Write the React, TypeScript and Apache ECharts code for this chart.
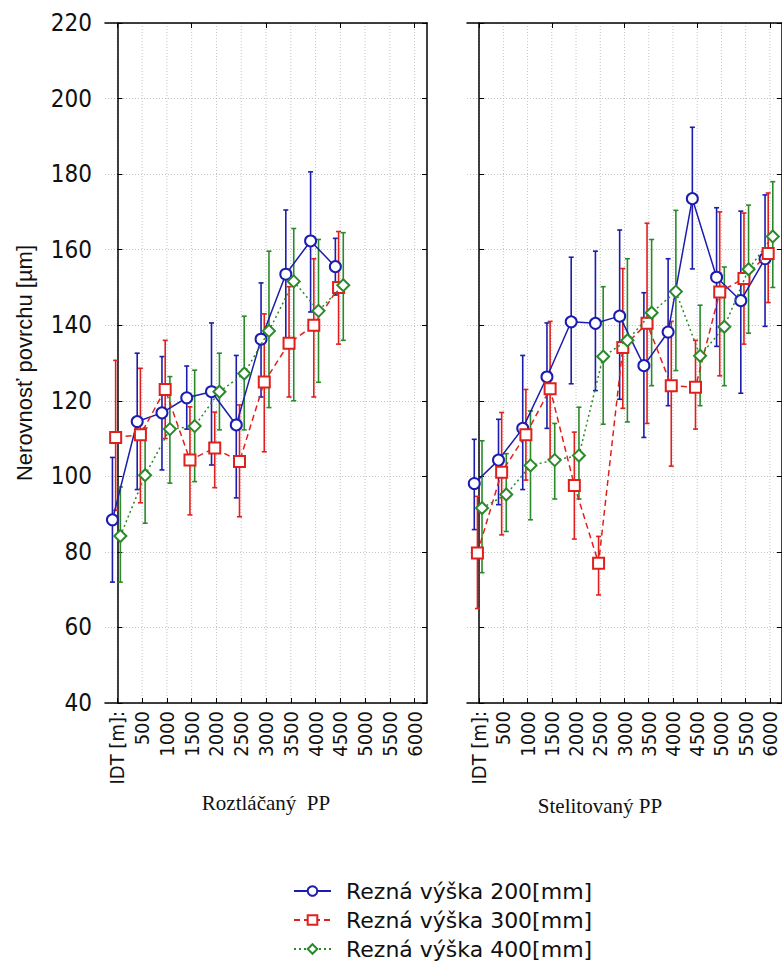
import React, { useEffect, useRef } from 'react';
import * as echarts from 'echarts';

// ---- data ----
const categories = ['IDT [m]:', '500', '1000', '1500', '2000', '2500', '3000', '3500', '4000', '4500', '5000', '5500', '6000'];
const seriesNames = ['Rezná výška 200[mm]', 'Rezná výška 300[mm]', 'Rezná výška 400[mm]'];
const panelTitles = ['Roztláčaný  PP', 'Stelitovaný PP'];

// Left panel: Roztláčaný PP (indices 0..9)
const leftBlueMean = [88.5, 114.5, 116.8, 120.8, 122.4, 113.6, 136.3, 153.5, 162.3, 155.5];
const leftBlueLow = [72, 96.5, 101.7, 112.5, 103, 94.3, 121, 136, 143.5, 148];
const leftBlueHigh = [105, 132.6, 131.7, 129.2, 140.6, 132, 151.2, 170.5, 180.6, 163];

const leftRedMean = [110.3, 111, 123, 104.3, 107.5, 103.9, 125, 135.2, 140, 150];
const leftRedLow = [91, 93, 110, 89.8, 97, 89.3, 106.5, 121, 121, 135];
const leftRedHigh = [130.7, 128.6, 136, 118.4, 117, 118.9, 143, 150.2, 157.6, 164.8];

const leftGreenMean = [84.2, 100.3, 112.5, 113.3, 122.4, 127.2, 138.5, 151.6, 143.8, 150.6];
const leftGreenLow = [72, 87.6, 98.2, 98.6, 112.3, 112.3, 118.2, 120, 124.9, 136];
const leftGreenHigh = [97.2, 112.8, 126.4, 128.1, 132.6, 142.4, 159.6, 165.6, 162.7, 164.5];

// Right panel: Stelitovaný PP (indices 0..12)
const rightBlueMean = [98.1, 104.3, 112.7, 126.3, 140.9, 140.5, 142.4, 129.3, 138.2, 173.5, 152.7, 146.5, 157.6];
const rightBlueLow = [85.9, 92.5, 96.5, 112.7, 124.5, 122.7, 120.4, 110.3, 118.7, 154.9, 134.4, 122, 139.7];
const rightBlueHigh = [109.8, 115.1, 132, 140.6, 158, 159.6, 165.2, 148.6, 157.6, 192.4, 171.1, 170.2, 174.5];

const rightRedMean = [79.7, 101.1, 111, 123.2, 97.6, 77, 134.1, 140.5, 124, 123.6, 148.8, 152.4, 159];
const rightRedLow = [65, 84.5, 99, 104.5, 83.4, 68.6, 118, 114, 102.7, 112.5, 126.6, 135, 146];
const rightRedHigh = [94.7, 116.9, 123, 141, 111.7, 84.1, 155, 167, 141, 136, 170, 169.7, 175];

const rightGreenMean = [91.6, 95.2, 102.9, 104.3, 105.5, 131.7, 136, 143.3, 148.9, 131.9, 139.6, 154.8, 163.5];
const rightGreenLow = [74.5, 85.4, 88.5, 94, 94, 113.8, 114.4, 124, 128, 118.7, 124, 137.9, 150];
const rightGreenHigh = [109.4, 106, 117.3, 114, 118.3, 150.2, 157.6, 162.7, 170.4, 145.3, 155.4, 171.8, 178];

const Y_MIN = 40;
const Y_MAX = 220;
const Y_STEP = 20;

// ---- styles ----
const COLORS = ['#1c1cb0', '#e0201c', '#2a8a2a'];
const SYMBOLS = ['emptyCircle', 'emptyRect', 'emptyDiamond'];
const SYMBOL_SIZES = [11, 11, 12];
const LINE_TYPES: any[] = ['solid', [6, 4], [2, 3]];
const OFFSETS = [-0.2, -0.07, 0.12];
const NARROW = "'Liberation Sans Narrow', 'DejaVu Sans Condensed', 'Liberation Sans', sans-serif";

const panels = [
  {
    mean: [leftBlueMean, leftRedMean, leftGreenMean],
    low: [leftBlueLow, leftRedLow, leftGreenLow],
    high: [leftBlueHigh, leftRedHigh, leftGreenHigh],
  },
  {
    mean: [rightBlueMean, rightRedMean, rightGreenMean],
    low: [rightBlueLow, rightRedLow, rightGreenLow],
    high: [rightBlueHigh, rightRedHigh, rightGreenHigh],
  },
];

function buildOption() {
  const grids = [
    { left: 105, top: 23, width: 322, height: 680 },
    { left: 467, top: 23, width: 322, height: 680 },
  ];
  const xAxes: any[] = [];
  const yAxes: any[] = [];
  const series: any[] = [];

  panels.forEach((panel, p) => {
    xAxes.push({
      type: 'category',
      gridIndex: p,
      position: 'bottom',
      data: categories,
      boundaryGap: true,
      axisLine: { show: true, lineStyle: { color: '#000', width: 1.5 } },
      axisTick: { show: true, inside: true, alignWithLabel: true, length: 5, lineStyle: { color: '#000' } },
      axisLabel: { show: true, rotate: 90, interval: 0, margin: 8, fontFamily: NARROW, fontSize: 20, color: '#111' },
      splitLine: { show: false },
    });
    xAxes.push({
      type: 'category',
      gridIndex: p,
      position: 'top',
      data: categories,
      boundaryGap: true,
      axisLine: { show: true, lineStyle: { color: '#000', width: 1.5 } },
      axisTick: { show: true, inside: true, alignWithLabel: true, length: 5, lineStyle: { color: '#000' } },
      axisLabel: { show: false },
      splitLine: { show: false },
    });
    xAxes.push({
      type: 'value',
      gridIndex: p,
      min: -0.5,
      max: categories.length - 0.5,
      show: false,
    });
    yAxes.push({
      type: 'value',
      gridIndex: p,
      position: 'left',
      min: Y_MIN,
      max: Y_MAX,
      interval: Y_STEP,
      name: p === 0 ? 'Nerovnosť povrchu [µm]' : '',
      nameLocation: 'middle',
      nameGap: 70,
      nameTextStyle: { fontFamily: "'Liberation Sans', Arial, sans-serif", fontSize: 22, color: '#111' },
      axisLine: { show: true, lineStyle: { color: '#000', width: 1.5 } },
      axisTick: { show: true, inside: true, length: 5, lineStyle: { color: '#000' } },
      axisLabel: { show: p === 0, margin: 13, fontFamily: NARROW, fontSize: 24, color: '#111' },
      splitLine: { show: true, lineStyle: { color: '#c4c4c4', width: 1, type: [1, 2] } },
    });
    yAxes.push({
      type: 'value',
      gridIndex: p,
      position: 'right',
      min: Y_MIN,
      max: Y_MAX,
      interval: Y_STEP,
      axisLine: { show: true, lineStyle: { color: '#000', width: 1.5 } },
      axisTick: { show: true, inside: true, length: 5, lineStyle: { color: '#000' } },
      axisLabel: { show: false },
      splitLine: { show: false },
    });

    const xValIdx = p * 3 + 2;
    const yIdx = p * 2;

    series.push({
      type: 'custom',
      name: 'vgrid' + p,
      xAxisIndex: xValIdx,
      yAxisIndex: yIdx,
      z: 0,
      silent: true,
      encode: { x: 0, y: 1 },
      data: categories.map((_, i) => [i, Y_MIN]),
      renderItem: (params: any, api: any) => {
        const x = api.coord([api.value(0), Y_MIN])[0];
        const cs = params.coordSys;
        return {
          type: 'line',
          shape: { x1: x, y1: cs.y, x2: x, y2: cs.y + cs.height },
          style: { stroke: '#c4c4c4', lineWidth: 1, lineDash: [1, 2] },
        };
      },
    });

    for (let s = 0; s < 3; s++) {
      const color = COLORS[s];
      const off = OFFSETS[s];
      const lo = panel.low[s];
      const hi = panel.high[s];
      series.push({
        type: 'custom',
        name: 'err' + p + '-' + s,
        xAxisIndex: xValIdx,
        yAxisIndex: yIdx,
        z: 2,
        silent: true,
        encode: { x: 0, y: [1, 2] },
        data: lo.map((l, i) => [i + off, l, hi[i]]),
        renderItem: (params: any, api: any) => {
          const x = api.value(0);
          const pHi = api.coord([x, api.value(2)]);
          const pLo = api.coord([x, api.value(1)]);
          const cap = 2.5;
          const st = { stroke: color, lineWidth: 1.6 };
          return {
            type: 'group',
            children: [
              { type: 'line', shape: { x1: pHi[0], y1: pHi[1], x2: pLo[0], y2: pLo[1] }, style: st },
              { type: 'line', shape: { x1: pHi[0] - cap, y1: pHi[1], x2: pHi[0] + cap, y2: pHi[1] }, style: st },
              { type: 'line', shape: { x1: pLo[0] - cap, y1: pLo[1], x2: pLo[0] + cap, y2: pLo[1] }, style: st },
            ],
          };
        },
      });
      series.push({
        type: 'line',
        name: seriesNames[s],
        xAxisIndex: xValIdx,
        yAxisIndex: yIdx,
        z: 3 + s,
        data: panel.mean[s].map((v, i) => [i + off, v]),
        symbol: SYMBOLS[s],
        symbolSize: SYMBOL_SIZES[s],
        showAllSymbol: true,
        itemStyle: { color: color, borderWidth: 2 },
        lineStyle: { color: color, width: 1.5, type: LINE_TYPES[s] },
        emphasis: { disabled: true },
      });
    }
  });

  return {
    animation: false,
    backgroundColor: '#ffffff',
    grid: grids,
    xAxis: xAxes,
    yAxis: yAxes,
    series,
    legend: {
      data: seriesNames,
      orient: 'vertical',
      left: 293,
      top: 880,
      padding: 0,
      itemWidth: 37,
      itemHeight: 12,
      itemGap: 7,
      selectedMode: false,
      textStyle: { fontFamily: "'DejaVu Sans', sans-serif", fontSize: 22, lineHeight: 22, color: '#111', padding: [0, 0, 0, 10] },
    },
    graphic: [
      {
        type: 'text',
        x: 266,
        y: 803,
        style: { text: panelTitles[0], fontFamily: "'Liberation Serif', 'Times New Roman', serif", fontSize: 21, fill: '#111', textAlign: 'center', textVerticalAlign: 'middle' },
      },
      {
        type: 'text',
        x: 600,
        y: 806,
        style: { text: panelTitles[1], fontFamily: "'Liberation Serif', 'Times New Roman', serif", fontSize: 21, fill: '#111', textAlign: 'center', textVerticalAlign: 'middle' },
      },
    ],
  };
}

export default function App() {
  const ref = useRef<HTMLDivElement>(null);
  useEffect(() => {
    if (!ref.current) return;
    const chart = echarts.init(ref.current, null, { renderer: 'svg' });
    chart.setOption(buildOption() as any);
    return () => chart.dispose();
  }, []);
  return (
    <div
      ref={ref}
      style={{ position: 'fixed', left: 0, top: 0, width: 782, height: 970, background: '#fff' }}
    />
  );
}
